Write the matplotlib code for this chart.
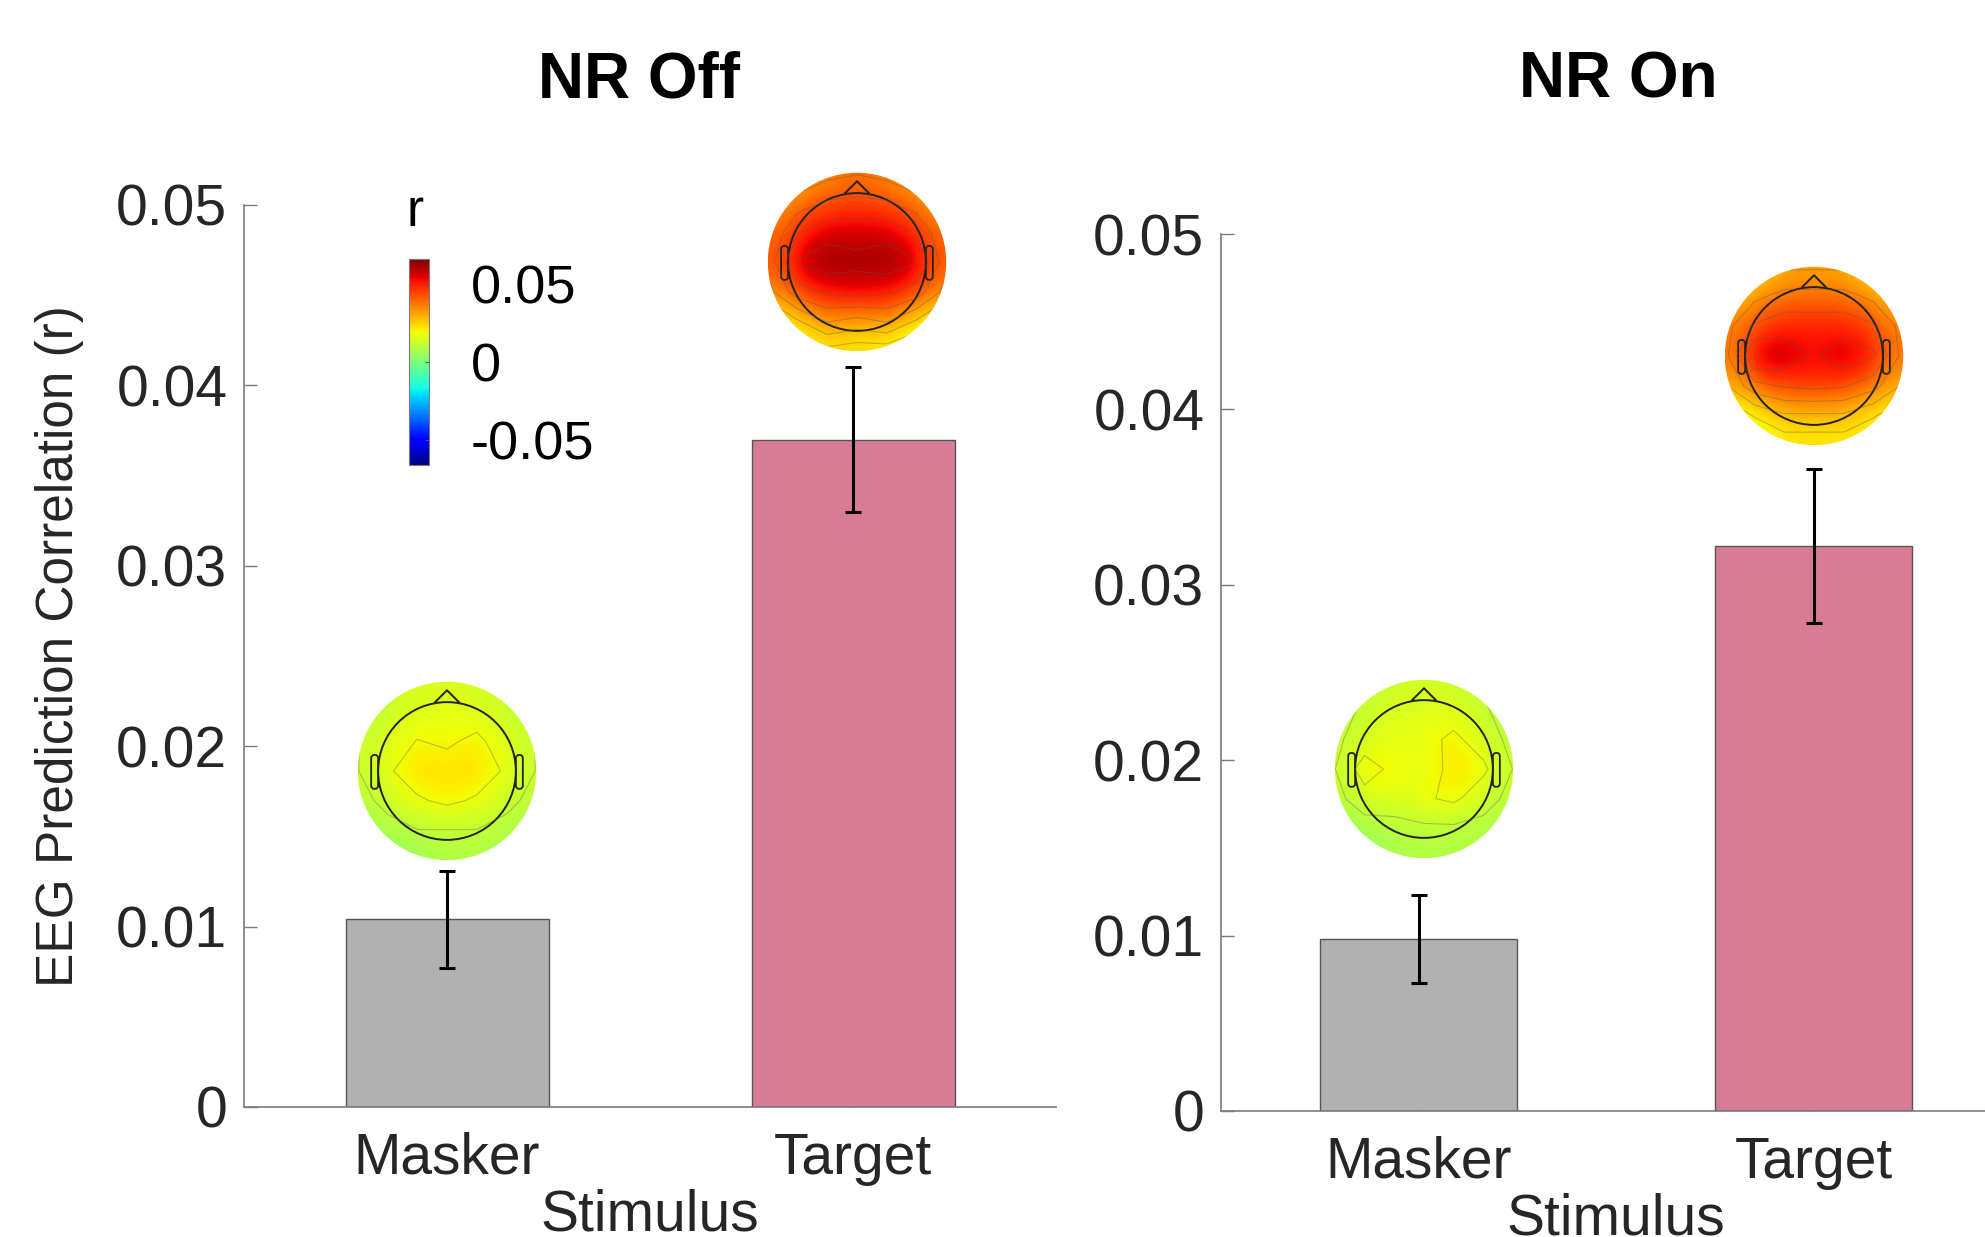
import numpy as np
import matplotlib
matplotlib.use("Agg")
import matplotlib.pyplot as plt
from matplotlib.patches import Circle, Polygon, FancyBboxPatch
from matplotlib.cm import ScalarMappable
from matplotlib.colors import Normalize

plt.rcParams["font.family"] = ["Liberation Sans", "DejaVu Sans"]

# bar data
stimuli = ["Masker", "Target"]
panels = ["NR Off", "NR On"]
means = {"NR Off": [0.0104, 0.0370], "NR On": [0.0098, 0.0322]}
errs = {"NR Off": [0.0027, 0.0040], "NR On": [0.0025, 0.0044]}
yticks = [0, 0.01, 0.02, 0.03, 0.04, 0.05]
ytick_labels = ["0", "0.01", "0.02", "0.03", "0.04", "0.05"]
bar_colors = ["#b1b1b1", "#d87c95"]

# coarse scalp maps (r), rows front -> back, cols left -> right
topo_off_masker = [
    [0.009, 0.013, 0.015, 0.015, 0.015, 0.013, 0.009],
    [0.011, 0.015, 0.017, 0.017, 0.017, 0.015, 0.011],
    [0.013, 0.017, 0.020, 0.019, 0.021, 0.017, 0.013],
    [0.013, 0.019, 0.023, 0.022, 0.023, 0.019, 0.013],
    [0.011, 0.015, 0.019, 0.021, 0.019, 0.015, 0.011],
    [0.008, 0.011, 0.013, 0.013, 0.013, 0.011, 0.008],
    [0.004, 0.005, 0.007, 0.009, 0.009, 0.008, 0.007],
]
topo_off_target = [
    [0.027, 0.032, 0.037, 0.039, 0.037, 0.032, 0.027],
    [0.034, 0.043, 0.047, 0.048, 0.047, 0.043, 0.034],
    [0.040, 0.052, 0.057, 0.057, 0.057, 0.052, 0.040],
    [0.042, 0.060, 0.063, 0.061, 0.063, 0.060, 0.042],
    [0.037, 0.050, 0.054, 0.056, 0.054, 0.050, 0.037],
    [0.024, 0.032, 0.040, 0.037, 0.040, 0.032, 0.024],
    [0.015, 0.020, 0.024, 0.022, 0.022, 0.017, 0.010],
]
topo_on_masker = [
    [0.009, 0.012, 0.014, 0.014, 0.014, 0.012, 0.009],
    [0.011, 0.014, 0.016, 0.016, 0.017, 0.014, 0.010],
    [0.012, 0.016, 0.017, 0.018, 0.021, 0.017, 0.011],
    [0.013, 0.023, 0.018, 0.016, 0.022, 0.021, 0.013],
    [0.011, 0.017, 0.015, 0.019, 0.021, 0.016, 0.011],
    [0.007, 0.010, 0.012, 0.012, 0.012, 0.011, 0.008],
    [0.003, 0.005, 0.008, 0.009, 0.009, 0.008, 0.007],
]
topo_on_target = [
    [0.020, 0.027, 0.032, 0.032, 0.032, 0.027, 0.020],
    [0.030, 0.038, 0.042, 0.042, 0.042, 0.038, 0.030],
    [0.037, 0.047, 0.050, 0.050, 0.050, 0.047, 0.037],
    [0.037, 0.060, 0.057, 0.052, 0.057, 0.054, 0.037],
    [0.032, 0.044, 0.047, 0.048, 0.047, 0.042, 0.032],
    [0.020, 0.027, 0.032, 0.032, 0.032, 0.027, 0.022],
    [0.010, 0.017, 0.022, 0.022, 0.022, 0.020, 0.017],
]
cbar_ticks = [-0.05, 0, 0.05]
cbar_labels = ["-0.05", "0", "0.05"]

W, H = 1985, 1237
fig = plt.figure(figsize=(W / 100, H / 100), dpi=100)


def px_box(x0, y0, w, h):
    return [x0 / W, 1 - (y0 + h) / H, w / W, h / H]


norm = Normalize(-0.066, 0.066)


def draw_topo(center, grid, r=89):
    cx, cy = center
    tax = fig.add_axes(px_box(cx - r - 2, cy - r - 2, 2 * r + 4, 2 * r + 4))
    tax.set_xlim(-1.02, 1.02)
    tax.set_ylim(-1.02, 1.02)
    tax.set_aspect("equal")
    tax.axis("off")
    g = np.array(grid)
    im = tax.imshow(g, extent=(-1, 1, -1, 1), cmap="jet", norm=norm,
                    interpolation="bicubic", origin="upper")
    im.set_clip_path(Circle((0, 0), 1, transform=tax.transData))
    xs = np.linspace(-1, 1, g.shape[1])
    ys = np.linspace(1, -1, g.shape[0])
    cs = tax.contour(xs, ys, g, levels=np.arange(-0.066, 0.066, 0.0066),
                     colors="#555555", linewidths=0.8, alpha=0.35)
    cs.set_clip_path(Circle((0, 0), 1, transform=tax.transData))
    # head outline
    tax.add_patch(Circle((0, 0), 0.772, fill=False, ec="#222222", lw=1.4))
    tax.add_patch(Polygon([[-0.14, 0.765], [0, 0.905], [0.14, 0.765]],
                          closed=False, fill=False, ec="#222222", lw=1.4,
                          joinstyle="round"))
    for sx in (-1, 1):
        x0 = 0.772 if sx > 0 else -0.85
        tax.add_patch(FancyBboxPatch((x0, -0.2), 0.078, 0.38,
                                     boxstyle="round,pad=0,rounding_size=0.035",
                                     fill=False, ec="#222222", lw=1.3))


ax_boxes = {"NR Off": px_box(244, 205, 812, 902),
            "NR On": px_box(1221, 234, 790, 877)}
title_x = {"NR Off": 639, "NR On": 1618}

for p in panels:
    ax = fig.add_axes(ax_boxes[p])
    x = np.arange(1, len(stimuli) + 1)
    ax.bar(x, means[p], width=0.5, color=bar_colors,
           edgecolor="#555555", linewidth=1.0, zorder=2)
    ax.errorbar(x, means[p], yerr=errs[p], fmt="none", ecolor="black",
                elinewidth=2.2, capsize=6, capthick=2.2, zorder=3)
    ax.set_xlim(0.5, 2.5)
    ax.set_ylim(0, 0.05)
    ax.set_xticks(x)
    ax.set_xticklabels(stimuli)
    ax.set_yticks(yticks)
    ax.set_yticklabels(ytick_labels)
    for s in ("top", "right"):
        ax.spines[s].set_visible(False)
    for s in ("left", "bottom"):
        ax.spines[s].set_color("#7a7a7a")
        ax.spines[s].set_linewidth(1.2)
    ax.tick_params(axis="y", direction="in", length=9, width=1.0,
                   color="#7a7a7a", labelsize=41, labelcolor="#262626", pad=12)
    ax.tick_params(axis="x", direction="in", length=9, width=1.0,
                   color="#555555", labelsize=41, labelcolor="#262626", pad=18)
    ax.set_xlabel("Stimulus", fontsize=41, color="#262626", labelpad=2)
    ax.patch.set_alpha(0)
    fig.text(title_x[p] / W, 1 - 97 / H, p, ha="center", va="baseline",
             fontsize=46, fontweight="bold")

fig.text(60 / W, 1 - 646 / H, "EEG Prediction Correlation (r)", rotation=90,
         ha="center", va="center", fontsize=37, color="#262626")

draw_topo((447, 771), topo_off_masker)
draw_topo((857, 262), topo_off_target)
draw_topo((1424, 769), topo_on_masker)
draw_topo((1814, 356), topo_on_target)

# colorbar
cax = fig.add_axes(px_box(409, 259, 20, 206))
cb = fig.colorbar(ScalarMappable(norm=norm, cmap="jet"), cax=cax)
cb.set_ticks(cbar_ticks)
cb.set_ticklabels(cbar_labels)
cb.outline.set_edgecolor("#7a7a7a")
cax.tick_params(length=3, direction="in", labelsize=39, pad=30,
                labelcolor="black", color="#555555")
fig.text(415 / W, 1 - 213 / H, "r", ha="center", va="center", fontsize=37)

fig.savefig("out.png", dpi=100)
